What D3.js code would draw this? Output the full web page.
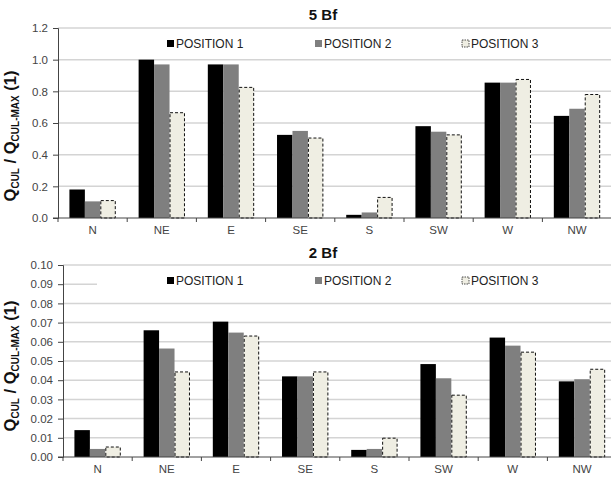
<!DOCTYPE html>
<html>
<head>
<meta charset="utf-8">
<script src="https://cdn.jsdelivr.net/npm/d3@7"></script>
<style>
  body { margin: 0; background: #fff; }
  svg { display: block; font-family: "Liberation Sans", Arial, sans-serif; }
</style>
</head>
<body>
<svg id="chart"></svg>
<script>
const directions = ["N", "NE", "E", "SE", "S", "SW", "W", "NW"];
const positions = ["POSITION 1", "POSITION 2", "POSITION 3"];

// 5 Bf panel
const bf5Pos1 = [0.18, 1.0, 0.97, 0.525, 0.02, 0.58, 0.855, 0.645];
const bf5Pos2 = [0.105, 0.97, 0.97, 0.55, 0.035, 0.545, 0.855, 0.69];
const bf5Pos3 = [0.11, 0.665, 0.825, 0.505, 0.13, 0.525, 0.875, 0.78];
const bf5Ticks = [0, 0.2, 0.4, 0.6, 0.8, 1.0, 1.2];

// 2 Bf panel
const bf2Pos1 = [0.014, 0.066, 0.0705, 0.042, 0.0037, 0.0484, 0.0622, 0.0394];
const bf2Pos2 = [0.0042, 0.0565, 0.0648, 0.042, 0.0042, 0.041, 0.058, 0.0405];
const bf2Pos3 = [0.0052, 0.0443, 0.063, 0.0443, 0.0098, 0.0322, 0.0546, 0.0457];
const bf2Ticks = [0, 0.01, 0.02, 0.03, 0.04, 0.05, 0.06, 0.07, 0.08, 0.09, 0.10];

const colors = ["#000000", "#7f7f7f", "#efeee3"];

const svg = d3.select("#chart").attr("width", 611).attr("height", 479);

function drawPanel(opt) {
  const g = svg.append("g");
  const x0 = d3.scaleBand().domain(directions).range([opt.left, opt.left + 8 * 69.2]);
  const bw = x0.bandwidth();
  const x1 = d3.scaleBand().domain(positions).range([bw * 0.165, bw * 0.835]);
  const y = d3.scaleLinear().domain([0, opt.max]).range([opt.bottom, opt.top]);

  // gridlines
  g.selectAll(".grid")
    .data(opt.ticks.slice(1))
    .enter()
    .append("line")
    .attr("x1", opt.left)
    .attr("x2", 611)
    .attr("y1", (d) => y(d))
    .attr("y2", (d) => y(d))
    .attr("stroke", "#d4d4d4")
    .attr("stroke-width", 1.5);

  // legend box hides gridlines underneath
  g.append("rect")
    .attr("x", opt.legendBox[0])
    .attr("y", opt.legendBox[1])
    .attr("width", 611 - opt.legendBox[0])
    .attr("height", opt.legendBox[2])
    .attr("fill", "#fff");

  const legendX = [167, 315, 462];
  positions.forEach((p, i) => {
    g.append("rect")
      .attr("x", legendX[i])
      .attr("y", opt.legendY - 8)
      .attr("width", 7)
      .attr("height", 7)
      .attr("fill", colors[i])
      .attr("stroke", i === 2 ? "#222" : "none")
      .attr("stroke-dasharray", i === 2 ? "1.5,1" : null)
      .attr("stroke-width", 0.8);
    g.append("text")
      .attr("x", legendX[i] + 9)
      .attr("y", opt.legendY)
      .attr("font-size", 12)
      .attr("fill", "#222")
      .text(p);
  });

  // bars
  const rows = directions.map((d, i) => ({ dir: d, vals: opt.series.map((s) => s[i]) }));
  const grp = g.selectAll(".grp")
    .data(rows)
    .enter()
    .append("g")
    .attr("transform", (d) => `translate(${x0(d.dir)},0)`);

  grp.selectAll("rect")
    .data((d) => d.vals.map((v, i) => ({ pos: positions[i], v: v, i: i })))
    .enter()
    .append("rect")
    .attr("x", (d) => x1(d.pos) + (d.i === 2 ? 0.5 : 0))
    .attr("width", (d) => x1.bandwidth() - (d.i === 2 ? 1 : 0))
    .attr("y", (d) => y(d.v))
    .attr("height", (d) => y(0) - y(d.v))
    .attr("fill", (d) => colors[d.i])
    .attr("stroke", (d) => (d.i === 2 ? "#111" : "none"))
    .attr("stroke-width", 1)
    .attr("stroke-dasharray", (d) => (d.i === 2 ? "3,2" : null));

  // y axis
  const yAxis = g.append("g")
    .attr("transform", `translate(${opt.left},0)`)
    .call(d3.axisLeft(y).tickValues(opt.ticks).tickFormat(d3.format(opt.fmt)).tickSize(5).tickPadding(5));
  yAxis.select(".domain").attr("stroke", "#444");
  yAxis.selectAll(".tick line").attr("stroke", "#444");
  yAxis.selectAll("text").attr("font-size", 11.5).attr("fill", "#444")
    .attr("font-family", "Liberation Sans, Arial, sans-serif");

  // x axis with ticks between categories
  const xAxis = g.append("g").attr("transform", `translate(0,${opt.bottom})`);
  xAxis.append("line")
    .attr("x1", opt.left - 5)
    .attr("x2", 611)
    .attr("stroke", "#444");
  xAxis.selectAll(".sep")
    .data(directions)
    .enter()
    .append("line")
    .attr("x1", (d) => x0(d))
    .attr("x2", (d) => x0(d))
    .attr("y2", 4)
    .attr("stroke", "#444");
  xAxis.selectAll(".lbl")
    .data(directions)
    .enter()
    .append("text")
    .attr("x", (d) => x0(d) + bw / 2)
    .attr("y", 16)
    .attr("text-anchor", "middle")
    .attr("font-size", 11.5)
    .attr("fill", "#444")
    .text((d) => d);

  // title
  g.append("text")
    .attr("x", 323)
    .attr("y", opt.titleY)
    .attr("text-anchor", "middle")
    .attr("font-size", 15)
    .attr("font-weight", "bold")
    .attr("fill", "#111")
    .text(opt.title);

  // y axis title
  const yt = g.append("text")
    .attr("transform", `translate(15.5,${opt.labelY}) rotate(-90)`)
    .attr("text-anchor", "middle")
    .attr("font-weight", "bold")
    .attr("font-size", 16.5)
    .attr("fill", "#111");
  yt.append("tspan").text("Q");
  yt.append("tspan").attr("font-size", 10).attr("dy", 3).text("CUL");
  yt.append("tspan").attr("dy", -3).text(" / Q");
  yt.append("tspan").attr("font-size", 10).attr("dy", 3).text("CUL-MAX");
  yt.append("tspan").attr("dy", -3).text(" (1)");
}

drawPanel({
  title: "5 Bf", titleY: 20, left: 58, top: 28, bottom: 218, max: 1.2,
  ticks: bf5Ticks, fmt: ".1f", series: [bf5Pos1, bf5Pos2, bf5Pos3],
  legendY: 48, legendBox: [97, 32, 24], labelY: 136
});

drawPanel({
  title: "2 Bf", titleY: 258, left: 63, top: 265, bottom: 457, max: 0.10,
  ticks: bf2Ticks, fmt: ".2f", series: [bf2Pos1, bf2Pos2, bf2Pos3],
  legendY: 285, legendBox: [97, 270, 28], labelY: 366
});
</script>
</body>
</html>
